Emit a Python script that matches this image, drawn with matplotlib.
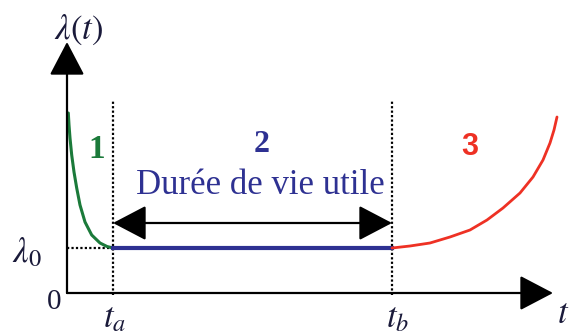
import matplotlib
matplotlib.use("Agg")
import matplotlib.pyplot as plt

# ---- data (conceptual units: origin at axes crossing) ----
t_a = 46
t_b = 325
lambda0 = 45
top_dotted = 193
arrow_level = 70
x_axis_end = 486
y_axis_end = 251

green_t = [1.3, 2, 3, 4.7, 7, 9.7, 13, 18, 24.7, 33, 40, 46]
green_l = [180, 168, 155, 138, 121, 105, 88, 71, 58, 50, 46.5, 45]
red_t = [325, 343, 363, 383, 403, 420, 436, 453, 466, 476, 483, 487, 490]
red_l = [45, 47, 50, 56, 63, 73, 85, 100, 116, 133, 150, 163, 176]

zone_labels = ["1", "2", "3"]
zone_text = "Durée de vie utile"

# ---- figure ----
fig = plt.figure(figsize=(5.69, 3.36), dpi=100)
ax = fig.add_axes([0, 0, 1, 1])
ax.set_xlim(-67, 502)
ax.set_ylim(-43, 293)
ax.axis("off")

serif = ["Liberation Serif", "DejaVu Serif"]
navy = "#2E3192"
green = "#1B7A3A"
red = "#EE3124"
ink = "#1a1a3a"

# axes with arrows
ap = dict(arrowstyle="-|>,head_length=1.05,head_width=0.55", mutation_scale=20,
          color="black", lw=1.6, shrinkA=0, shrinkB=0)
ax.annotate("", xy=(0, y_axis_end), xytext=(0, 0), arrowprops=ap)
ax.annotate("", xy=(x_axis_end, 0), xytext=(0, 0), arrowprops=ap)

# dotted guides
ax.plot([t_a, t_a], [-2, top_dotted], color="black", lw=1.6, ls=(0, (1, 1)))
ax.plot([t_b, t_b], [-2, top_dotted], color="black", lw=1.6, ls=(0, (1, 1)))
ax.plot([0, t_a], [lambda0, lambda0], color="black", lw=1.6, ls=(0, (1, 1)))

# curves
ax.plot(green_t, green_l, color=green, lw=2.2, solid_capstyle="round",
        solid_joinstyle="round")
ax.plot([t_a, t_b], [lambda0, lambda0], color=navy, lw=3)
ax.plot(red_t, red_l, color=red, lw=2.0, solid_capstyle="round",
        solid_joinstyle="round")

# double arrow
ap2 = dict(arrowstyle="<|-|>,head_length=1.05,head_width=0.55", mutation_scale=20,
           color="black", lw=1.6, shrinkA=0, shrinkB=0)
ax.annotate("", xy=(t_b, arrow_level), xytext=(t_a, arrow_level), arrowprops=ap2)

# zone labels
ax.text(30, 144, zone_labels[0], color=green, fontsize=24, fontweight="bold",
        family=serif, ha="center", va="center")
ax.text(195, 148, zone_labels[1], color=navy, fontsize=23, fontweight="bold",
        family=serif, ha="center", va="center")
ax.text(403, 146, zone_labels[2], color=red, fontsize=22, fontweight="bold",
        family=["Liberation Sans", "DejaVu Sans"], ha="center", va="center")
ax.text(193, 108, zone_text, color=navy, fontsize=25, family=serif,
        ha="center", va="center")

# axis labels
ax.text(12, 263, r"$\lambda(t)$", fontsize=25, ha="center", va="center",
        color=ink, math_fontfamily="stix")
ax.text(-40, 41, r"$\lambda_0$", fontsize=25, ha="center", va="center",
        color=ink, math_fontfamily="stix")
ax.text(-13, -9, "0", fontsize=21, family=serif, ha="center", va="center",
        color=ink)
ax.text(t_a + 2, -24, r"$t_a$", fontsize=25, ha="center", va="center",
        color=ink, math_fontfamily="stix")
ax.text(t_b + 6, -24, r"$t_b$", fontsize=25, ha="center", va="center",
        color=ink, math_fontfamily="stix")
ax.text(502, -20, r"$t$", fontsize=25, ha="right", va="center",
        color=ink, math_fontfamily="stix")

fig.savefig("out.png", dpi=100)
